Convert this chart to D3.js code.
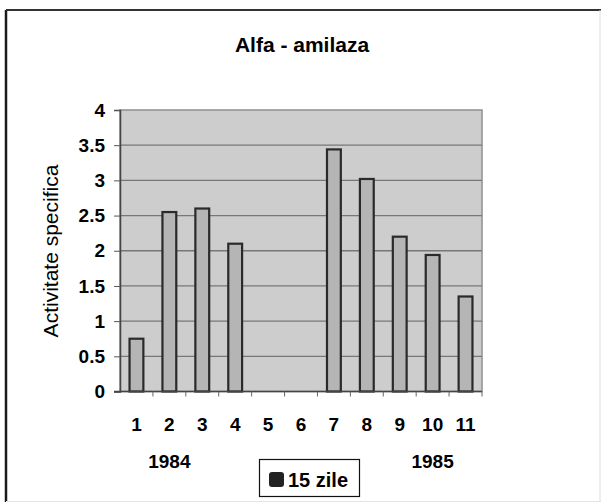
<!DOCTYPE html>
<html><head><meta charset="utf-8">
<script src="https://cdn.jsdelivr.net/npm/d3@7"></script>
<style>body{margin:0;background:#fff}svg{display:block}text{font-family:Arial,"Liberation Sans",sans-serif}</style>
</head><body>
<script>
const categories = ["1","2","3","4","5","6","7","8","9","10","11"];
const values = [0.75, 2.55, 2.6, 2.1, null, null, 3.44, 3.02, 2.2, 1.94, 1.35];
const yTicks = [0, 0.5, 1, 1.5, 2, 2.5, 3, 3.5, 4];
const yTickLabels = ["0","0.5","1","1.5","2","2.5","3","3.5","4"];
const yearLabels = [{year:"1984", at:"2"}, {year:"1985", at:"10"}];
const title = "Alfa - amilaza";
const yTitle = "Activitate specifica";
const seriesName = "15 zile";

const W = 601, H = 503;
const svg = d3.select("body").append("svg").attr("width", W).attr("height", H);

// outer frame
svg.append("line").attr("x1",6).attr("x2",6).attr("y1",10).attr("y2",502).attr("stroke","#1a1a1a").attr("stroke-width",2.5);
svg.append("line").attr("x1",6).attr("x2",601).attr("y1",10).attr("y2",10).attr("stroke","#333").attr("stroke-width",2);
svg.append("line").attr("x1",600).attr("x2",600).attr("y1",10).attr("y2",502).attr("stroke","#ddd").attr("stroke-width",1);
svg.append("line").attr("x1",6).attr("x2",601).attr("y1",501.5).attr("y2",501.5).attr("stroke","#e4e4e4").attr("stroke-width",1);

const m = {left:120, right:482, top:110, bottom:391.5};
const x = d3.scaleBand().domain(categories).range([m.left, m.right]).paddingInner(0.58).paddingOuter(0.29);
const xStep = d3.scaleBand().domain(categories).range([m.left, m.right]);
const y = d3.scaleLinear().domain([0,4]).range([m.bottom, m.top]);

// plot background
svg.append("rect").attr("x",m.left).attr("y",m.top).attr("width",m.right-m.left).attr("height",m.bottom-m.top)
  .attr("fill","#cdcdcd").attr("stroke","#8f8f8f").attr("stroke-width",1.5);

// gridlines
svg.append("g").selectAll("line").data(yTicks.slice(1,-1)).join("line")
  .attr("x1",m.left).attr("x2",m.right).attr("y1",d=>y(d)).attr("y2",d=>y(d))
  .attr("stroke","#777").attr("stroke-width",1.3);

// bars
svg.append("g").selectAll("rect").data(categories.map((c,i)=>({c,v:values[i]})).filter(d=>d.v!=null)).join("rect")
  .attr("x",d=>x(d.c)).attr("width",x.bandwidth())
  .attr("y",d=>y(d.v)).attr("height",d=>y(0)-y(d.v))
  .attr("fill","#b5b5b5").attr("stroke","#2a2a2a").attr("stroke-width",2.2);

// y axis
const yAxis = d3.axisLeft(y).tickValues(yTicks).tickFormat((d,i)=>yTickLabels[i]).tickSize(6).tickPadding(9);
const ga = svg.append("g").attr("transform",`translate(${m.left},0)`).call(yAxis);
ga.select(".domain").attr("stroke","#444").attr("stroke-width",1.5);
ga.selectAll(".tick line").attr("stroke","#555");
ga.selectAll("text").attr("font-size",19).attr("font-weight","bold").attr("fill","#000");

// x axis
const gx = svg.append("g").attr("transform",`translate(0,${m.bottom})`);
gx.append("line").attr("x1",m.left-6).attr("x2",m.right).attr("y1",0).attr("y2",0).attr("stroke","#444").attr("stroke-width",1.5);
gx.selectAll("line.t").data(categories.slice(1).concat(["end"])).join("line").attr("class","t")
  .attr("x1",d=>d==="end"?m.right:xStep(d)).attr("x2",d=>d==="end"?m.right:xStep(d))
  .attr("y1",0).attr("y2",5).attr("stroke","#666");
gx.selectAll("text").data(categories).join("text")
  .attr("x",d=>xStep(d)+xStep.bandwidth()/2).attr("y",39.5)
  .attr("text-anchor","middle").attr("font-size",19).attr("font-weight","bold").text(d=>d);

// year labels
svg.append("g").selectAll("text").data(yearLabels).join("text")
  .attr("x",d=>xStep(d.at)+xStep.bandwidth()/2).attr("y",468).attr("text-anchor","middle")
  .attr("font-size",19).attr("font-weight","bold").text(d=>d.year);

// title
svg.append("text").attr("x",302).attr("y",52).attr("text-anchor","middle")
  .attr("font-size",21).attr("font-weight","bold").text(title);

// y title
svg.append("text").attr("transform","translate(58,251) rotate(-90)").attr("text-anchor","middle")
  .attr("font-size",21).text(yTitle);

// legend
const lg = svg.append("g");
lg.append("rect").attr("x",259.5).attr("y",459.5).attr("width",100).attr("height",37).attr("fill","#fff").attr("stroke","#111").attr("stroke-width",1.2);
lg.append("rect").attr("x",269).attr("y",472).attr("width",15).attr("height",15).attr("rx",3).attr("fill","#222");
lg.append("text").attr("x",288).attr("y",487).attr("font-size",20).attr("font-weight","bold").text(seriesName);
</script>
</body></html>
